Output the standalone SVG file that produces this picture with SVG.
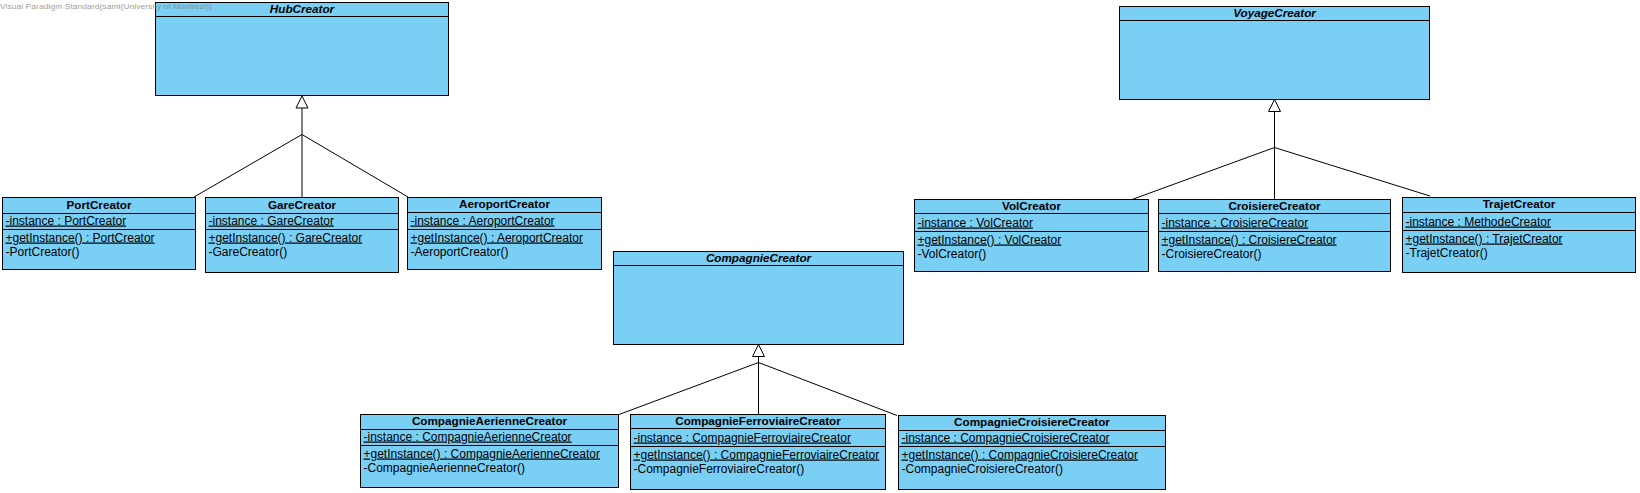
<svg xmlns="http://www.w3.org/2000/svg" width="1640" height="493" viewBox="0 0 1640 493">
<style>
.box{fill:#7acff5;stroke:#000;stroke-width:1}
.sep{stroke:#000;stroke-width:1;fill:none}
text{font-family:"Liberation Sans",Arial,sans-serif;fill:#000}
.m{font-size:12px}
.ttl{font-size:11.7px;font-weight:bold;text-anchor:middle}
.abs{font-style:italic}
.u{text-decoration:underline}
.conn line,.conn polyline{stroke:#000;stroke-width:1;fill:none}
.conn polygon{fill:#fff;stroke:#000;stroke-width:1}
.wm{font-size:8px;fill:#808080;opacity:0.75}
</style>
<rect width="1640" height="493" fill="#fff"/>

<g id="HubCreator">
<rect class="box" x="155.5" y="2.5" width="293" height="93"/>
<line class="sep" x1="155.5" y1="16.5" x2="448.5" y2="16.5"/>
<text class="ttl abs" x="302" y="13">HubCreator</text>
</g>

<g id="VoyageCreator">
<rect class="box" x="1119.5" y="6.5" width="310" height="93"/>
<line class="sep" x1="1119.5" y1="20.5" x2="1429.5" y2="20.5"/>
<text class="ttl abs" x="1274.5" y="17">VoyageCreator</text>
</g>

<g id="CompagnieCreator">
<rect class="box" x="613.5" y="251.5" width="290" height="93"/>
<line class="sep" x1="613.5" y1="265.5" x2="903.5" y2="265.5"/>
<text class="ttl abs" x="758.5" y="262">CompagnieCreator</text>
</g>

<g id="PortCreator">
<rect class="box" x="2.5" y="197.5" width="193" height="72"/>
<line class="sep" x1="2.5" y1="213.5" x2="195.5" y2="213.5"/>
<line class="sep" x1="2.5" y1="229.5" x2="195.5" y2="229.5"/>
<text class="ttl" x="99" y="208.5">PortCreator</text>
<text class="m u" x="5.5" y="224.5">-instance : PortCreator</text>
<text class="m u" x="5.5" y="241.5">+getInstance() : PortCreator</text>
<text class="m" x="5.5" y="255.5">-PortCreator()</text>
</g>

<g id="GareCreator">
<rect class="box" x="205.5" y="197.5" width="193" height="75"/>
<line class="sep" x1="205.5" y1="213.5" x2="398.5" y2="213.5"/>
<line class="sep" x1="205.5" y1="229.5" x2="398.5" y2="229.5"/>
<text class="ttl" x="302" y="208.5">GareCreator</text>
<text class="m u" x="208.5" y="224.5">-instance : GareCreator</text>
<text class="m u" x="208.5" y="241.5">+getInstance() : GareCreator</text>
<text class="m" x="208.5" y="255.5">-GareCreator()</text>
</g>

<g id="AeroportCreator">
<rect class="box" x="407.5" y="197.5" width="194" height="72"/>
<line class="sep" x1="407.5" y1="212.5" x2="601.5" y2="212.5"/>
<line class="sep" x1="407.5" y1="229.5" x2="601.5" y2="229.5"/>
<text class="ttl" x="504.5" y="208">AeroportCreator</text>
<text class="m u" x="410.5" y="224.5">-instance : AeroportCreator</text>
<text class="m u" x="410.5" y="241.5">+getInstance() : AeroportCreator</text>
<text class="m" x="410.5" y="255.5">-AeroportCreator()</text>
</g>

<g id="VolCreator">
<rect class="box" x="914.5" y="199.5" width="234" height="72"/>
<line class="sep" x1="914.5" y1="213.5" x2="1148.5" y2="213.5"/>
<line class="sep" x1="914.5" y1="231.5" x2="1148.5" y2="231.5"/>
<text class="ttl" x="1031.5" y="209.5">VolCreator</text>
<text class="m u" x="917.5" y="226.5">-instance : VolCreator</text>
<text class="m u" x="917.5" y="243.5">+getInstance() : VolCreator</text>
<text class="m" x="917.5" y="257.5">-VolCreator()</text>
</g>

<g id="CroisiereCreator">
<rect class="box" x="1158.5" y="199.5" width="232" height="72"/>
<line class="sep" x1="1158.5" y1="213.5" x2="1390.5" y2="213.5"/>
<line class="sep" x1="1158.5" y1="231.5" x2="1390.5" y2="231.5"/>
<text class="ttl" x="1274.5" y="209.5">CroisiereCreator</text>
<text class="m u" x="1161.5" y="226.5">-instance : CroisiereCreator</text>
<text class="m u" x="1161.5" y="243.5">+getInstance() : CroisiereCreator</text>
<text class="m" x="1161.5" y="257.5">-CroisiereCreator()</text>
</g>

<g id="TrajetCreator">
<rect class="box" x="1402.5" y="197.5" width="233" height="75"/>
<line class="sep" x1="1402.5" y1="212.5" x2="1635.5" y2="212.5"/>
<line class="sep" x1="1402.5" y1="230.5" x2="1635.5" y2="230.5"/>
<text class="ttl" x="1519" y="208">TrajetCreator</text>
<text class="m u" x="1405.5" y="225.5">-instance : MethodeCreator</text>
<text class="m u" x="1405.5" y="242.5">+getInstance() : TrajetCreator</text>
<text class="m" x="1405.5" y="256.5">-TrajetCreator()</text>
</g>

<g id="CompagnieAerienneCreator">
<rect class="box" x="360.5" y="414.5" width="258" height="73"/>
<line class="sep" x1="360.5" y1="429.5" x2="618.5" y2="429.5"/>
<line class="sep" x1="360.5" y1="445.5" x2="618.5" y2="445.5"/>
<text class="ttl" x="489.5" y="425">CompagnieAerienneCreator</text>
<text class="m u" x="363.5" y="440.5">-instance : CompagnieAerienneCreator</text>
<text class="m u" x="363.5" y="457.5">+getInstance() : CompagnieAerienneCreator</text>
<text class="m" x="363.5" y="471.5">-CompagnieAerienneCreator()</text>
</g>

<g id="CompagnieFerroviaireCreator">
<rect class="box" x="630.5" y="414.5" width="255" height="75"/>
<line class="sep" x1="630.5" y1="428.5" x2="885.5" y2="428.5"/>
<line class="sep" x1="630.5" y1="446.5" x2="885.5" y2="446.5"/>
<text class="ttl" x="758" y="424.5">CompagnieFerroviaireCreator</text>
<text class="m u" x="633.5" y="441.5">-instance : CompagnieFerroviaireCreator</text>
<text class="m u" x="633.5" y="458.5">+getInstance() : CompagnieFerroviaireCreator</text>
<text class="m" x="633.5" y="472.5">-CompagnieFerroviaireCreator()</text>
</g>

<g id="CompagnieCroisiereCreator">
<rect class="box" x="898.5" y="415.5" width="267" height="74"/>
<line class="sep" x1="898.5" y1="430.5" x2="1165.5" y2="430.5"/>
<line class="sep" x1="898.5" y1="446.5" x2="1165.5" y2="446.5"/>
<text class="ttl" x="1032" y="426">CompagnieCroisiereCreator</text>
<text class="m u" x="901.5" y="441.5">-instance : CompagnieCroisiereCreator</text>
<text class="m u" x="901.5" y="458.5">+getInstance() : CompagnieCroisiereCreator</text>
<text class="m" x="901.5" y="472.5">-CompagnieCroisiereCreator()</text>
</g>

<g id="connectors" class="conn">
<line x1="302" y1="108" x2="302" y2="197.5"/>
<polyline points="194,197 302,134.5 408,197"/>
<polygon points="302,96 296,108 308,108"/>

<line x1="1274.5" y1="111.5" x2="1274.5" y2="199.5"/>
<polyline points="1132,199.5 1274.5,147.5 1430,196"/>
<polygon points="1274.5,99.5 1268.5,111.5 1280.5,111.5"/>

<line x1="758.5" y1="356.5" x2="758.5" y2="414.5"/>
<polyline points="619,414.5 758.5,362.5 897,415.5"/>
<polygon points="758.5,344.5 752.5,356.5 764.5,356.5"/>
</g>

<text class="wm" x="0" y="9" textLength="212" lengthAdjust="spacingAndGlyphs">Visual Paradigm Standard(sami(University of Montreal))</text>
</svg>
